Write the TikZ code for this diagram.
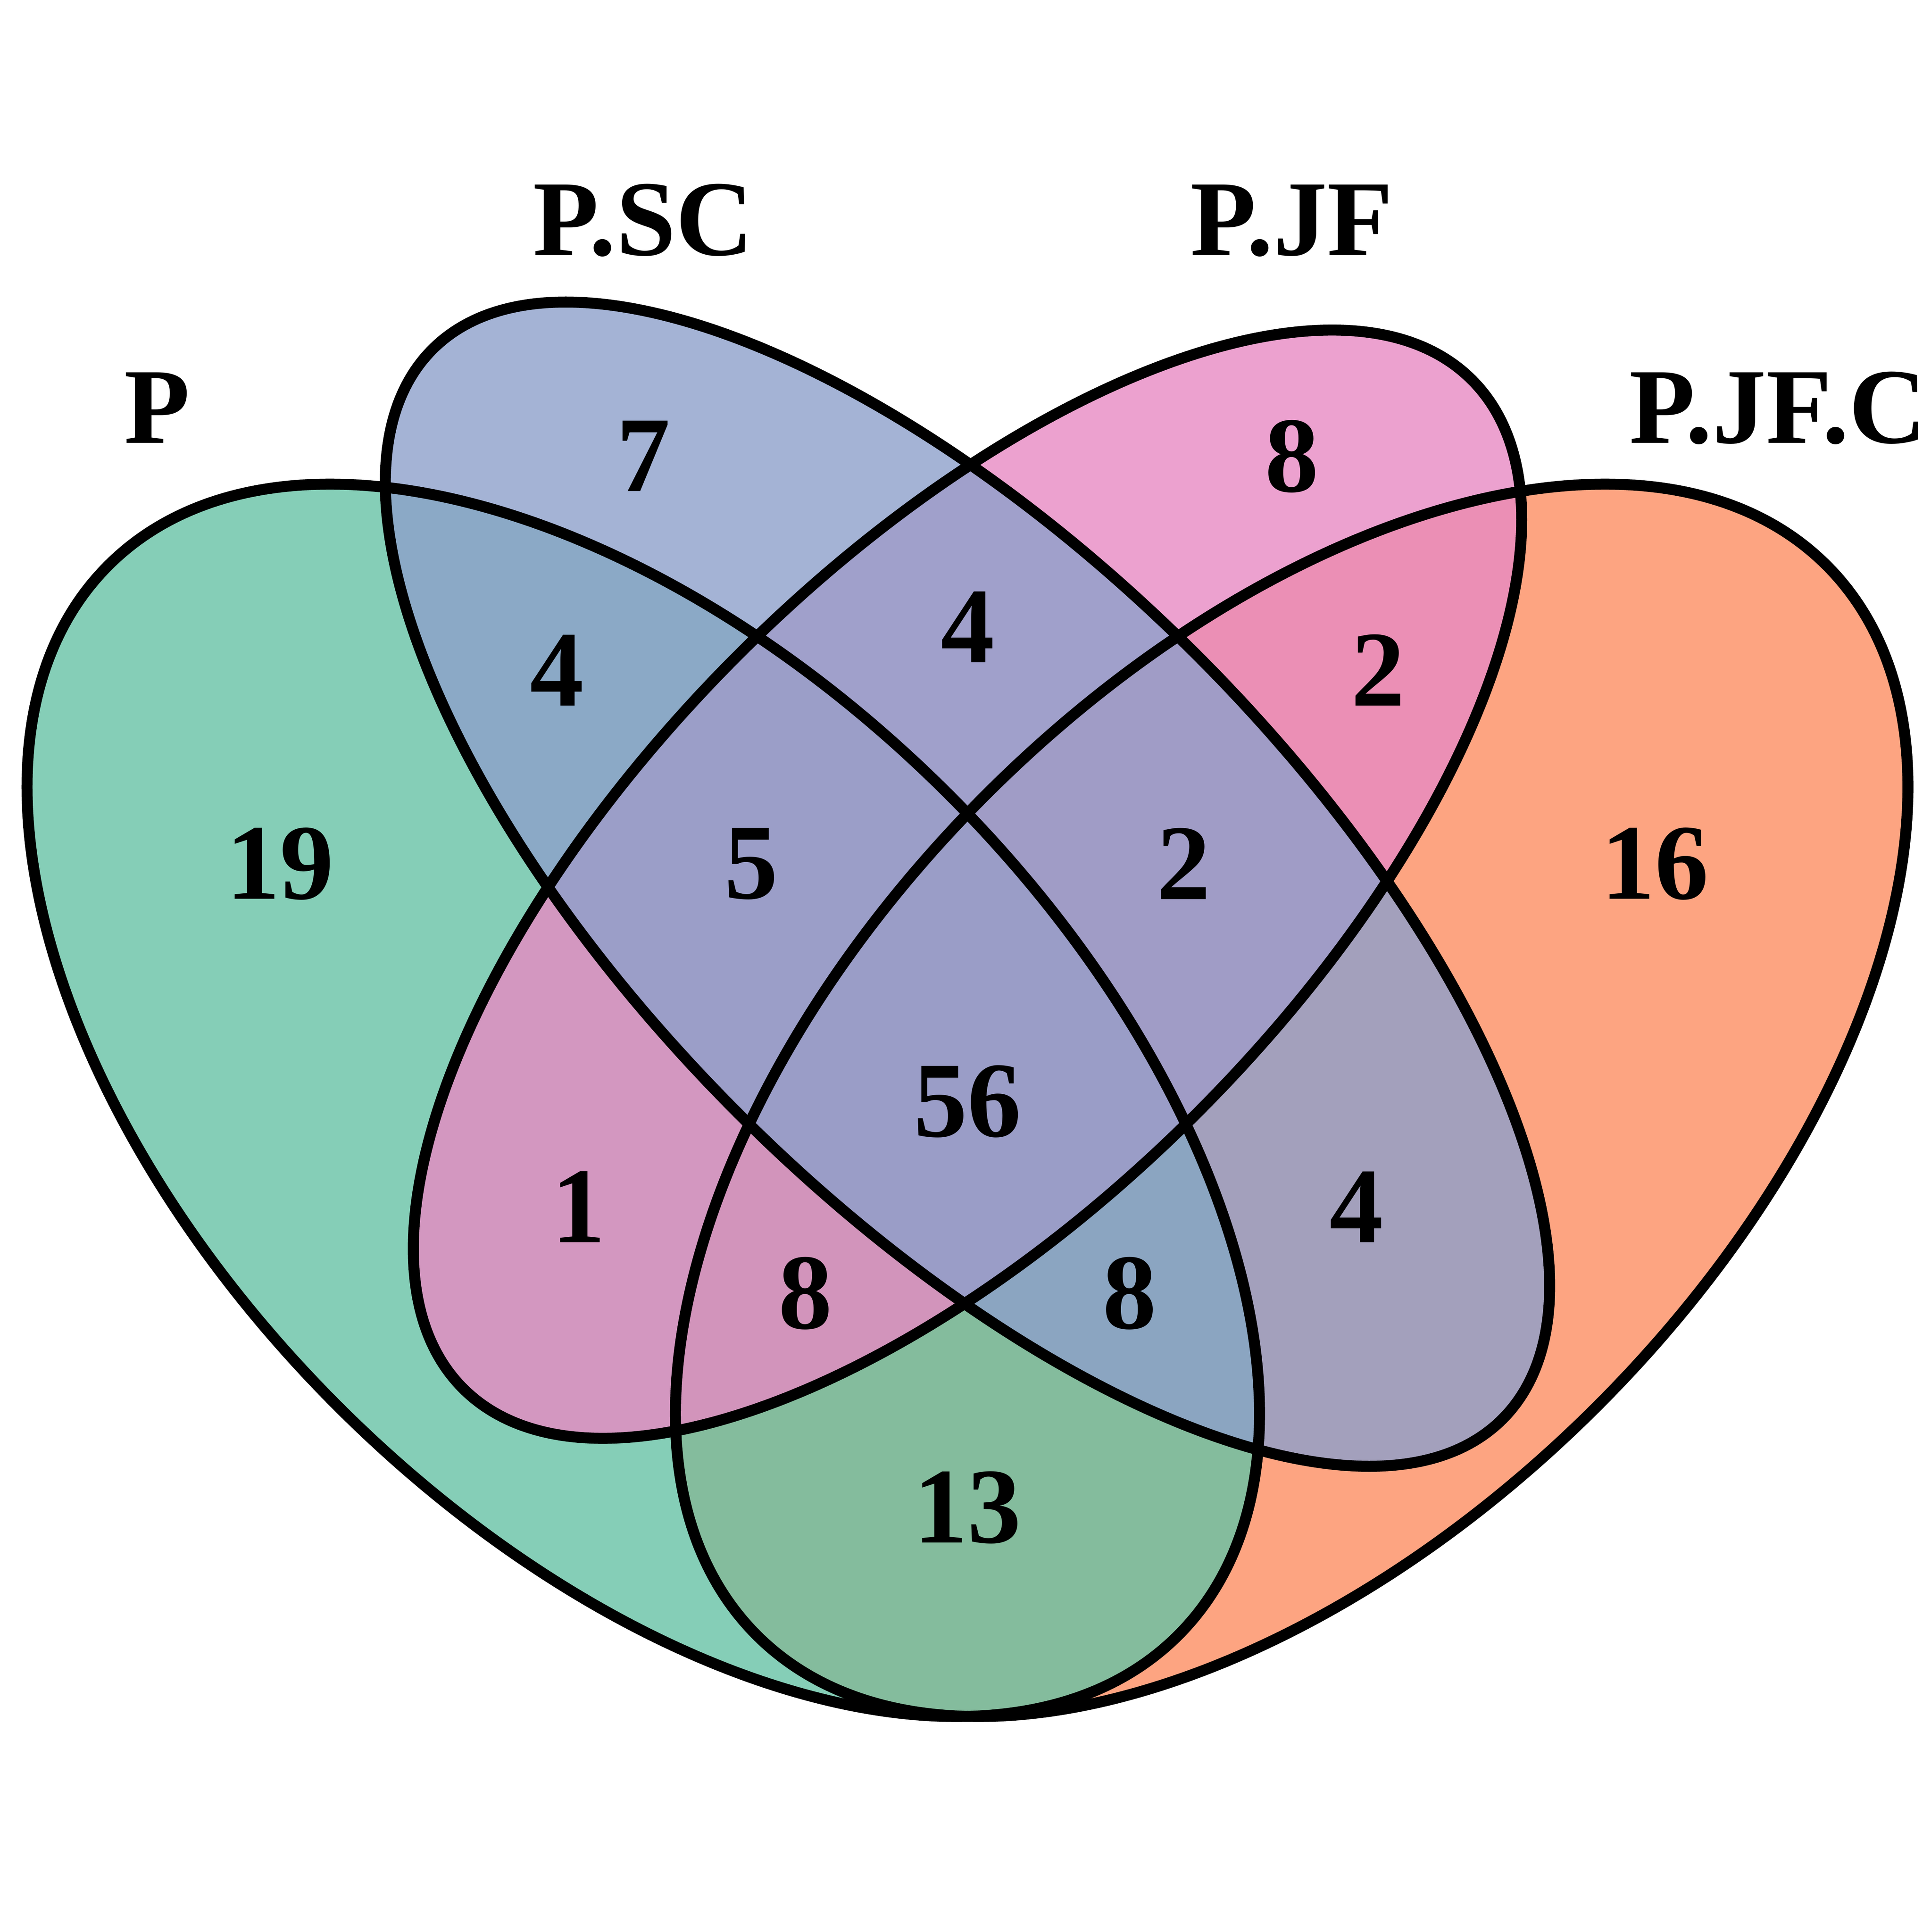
\documentclass[tikz,border=0pt]{standalone}
\usepackage{fontspec}
\setmainfont{Liberation Serif}
\definecolor{setP}{HTML}{66C2A5}
\definecolor{setSC}{HTML}{8DA0CB}
\definecolor{setJF}{HTML}{E78AC3}
\definecolor{setJFC}{HTML}{FC8D62}
\tikzset{
  lbl/.style={font=\fontsize{14.17}{17}\selectfont\bfseries, inner sep=0pt},
  cat/.style={lbl, anchor=base},
  outline/.style={draw=black, line width=1.45pt}
}
\begin{document}
\begin{tikzpicture}[x=10cm,y=10cm]
  \useasboundingbox (0.0524,0.0852) rectangle (0.9457,0.9791);
  % fills
  \begin{scope}[fill opacity=0.8]
    \fill[setJFC, rotate around={45:(0.65,0.47)}] (0.65,0.47) ellipse (0.35 and 0.20);
    \fill[setP, rotate around={135:(0.35,0.47)}] (0.35,0.47) ellipse (0.35 and 0.20);
    \fill[setJF, rotate around={45:(0.50,0.57)}] (0.50,0.57) ellipse (0.33 and 0.15);
    \fill[setSC, rotate around={135:(0.50,0.57)}] (0.50,0.57) ellipse (0.35 and 0.15);
  \end{scope}
  % outlines
  \begin{scope}[outline]
    \draw[rotate around={45:(0.65,0.47)}] (0.65,0.47) ellipse (0.35 and 0.20);
    \draw[rotate around={135:(0.35,0.47)}] (0.35,0.47) ellipse (0.35 and 0.20);
    \draw[rotate around={45:(0.50,0.57)}] (0.50,0.57) ellipse (0.33 and 0.15);
    \draw[rotate around={135:(0.50,0.57)}] (0.50,0.57) ellipse (0.35 and 0.15);
  \end{scope}
  % set names
  \path
    (0.125,0.7742) node[cat] (tP){P}
    (0.35,0.861) node[cat] (tSC){P.SC}
    (0.65,0.861) node[cat] (tJF){P.JF}
    (0.875,0.7742) node[cat] (tJFC){P.JF.C};
  % counts
  \path
    (0.35,0.768) node[lbl] (sc){7}
    (0.65,0.768) node[lbl] (jf){8}
    (0.31,0.669) node[lbl] (p-sc){4}
    (0.50,0.689) node[lbl] (sc-jf){4}
    (0.69,0.669) node[lbl] (jf-jfc){2}
    (0.182,0.5795) node[lbl] (p){19}
    (0.40,0.5795) node[lbl] (p-sc-jf){5}
    (0.60,0.5795) node[lbl] (sc-jf-jfc){2}
    (0.818,0.5795) node[lbl] (jfc){16}
    (0.50,0.4695) node[lbl] (all){56}
    (0.32,0.4206) node[lbl] (p-jf){1}
    (0.68,0.4206) node[lbl] (sc-jfc){4}
    (0.425,0.3806) node[lbl] (p-jf-jfc){8}
    (0.575,0.3806) node[lbl] (p-sc-jfc){8}
    (0.50,0.2816) node[lbl] (p-jfc){13};
\end{tikzpicture}
\end{document}
